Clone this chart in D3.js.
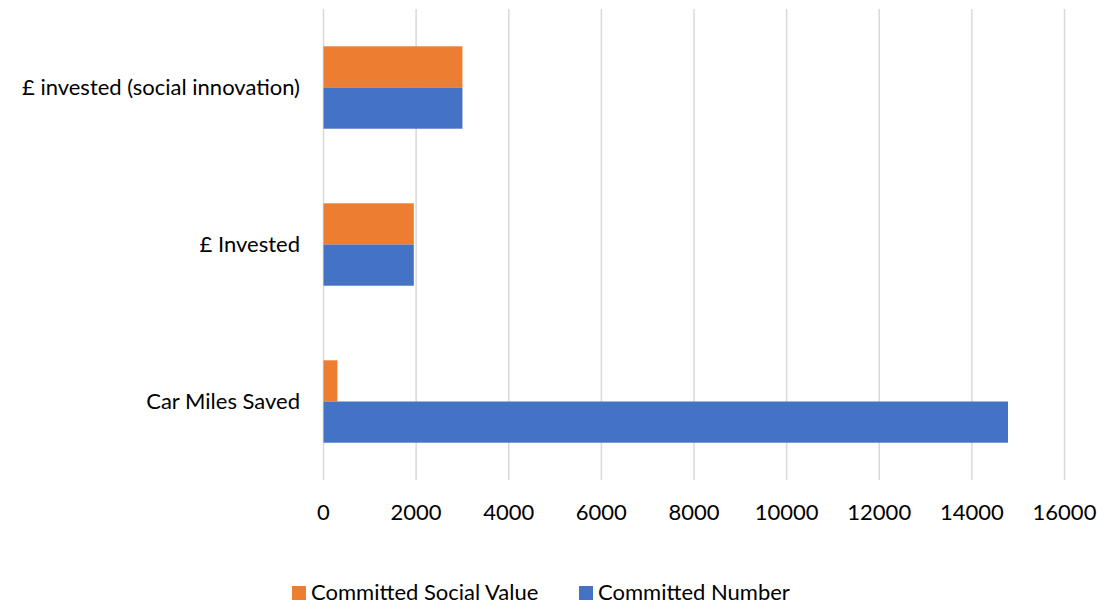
<!DOCTYPE html>
<html>
<head>
<meta charset="utf-8">
<script src="https://cdn.jsdelivr.net/npm/d3@7"></script>
<style>
  body { margin: 0; background: #fff; }
  text { font-family: Lato, "Open Sans", sans-serif; fill: #000; }
</style>
</head>
<body>
<script>
const WIDTH = 1097;
const HEIGHT = 606;

var categories = ['£ invested (social innovation)', '£ Invested', 'Car Miles Saved'];
var seriesNames = ['Committed Social Value', 'Committed Number'];
var socialValue = [3000, 1950, 300];
var committedNumber = [3000, 1950, 14780];
var ticks = [0, 2000, 4000, 6000, 8000, 10000, 12000, 14000, 16000];
var colors = d3.scaleOrdinal().domain(seriesNames).range(['#ED7D31', '#4472C4']);

var rows = categories.map(function(c, i) {
    return {name: c, values: [socialValue[i], committedNumber[i]]};
});

var svg = d3.select('body').append('svg')
    .attr('width', WIDTH)
    .attr('height', HEIGHT);

var x = d3.scaleLinear().domain([0, 16000]).range([323.5, 1064.5]);
var y = d3.scaleBand().domain(categories).range([9, 480])
    .paddingInner(0.475).paddingOuter(0.2375);
var ySub = d3.scaleBand().domain(seriesNames).range([0, y.bandwidth()]);

// gridlines
svg.append('g').selectAll('line')
    .data(ticks)
    .enter().append('line')
    .attr('x1', function(d) { return x(d); })
    .attr('x2', function(d) { return x(d); })
    .attr('y1', 9)
    .attr('y2', 480)
    .attr('stroke', '#d9d9d9')
    .attr('stroke-width', 1.5);

// bars
var groups = svg.append('g').selectAll('g')
    .data(rows)
    .enter().append('g')
    .attr('transform', function(d) { return 'translate(0,' + y(d.name) + ')'; });

groups.selectAll('rect')
    .data(function(d) { return d.values.map(function(v, i) { return {key: seriesNames[i], value: v}; }); })
    .enter().append('rect')
    .attr('x', x(0))
    .attr('y', function(d) { return ySub(d.key); })
    .attr('width', function(d) { return x(d.value) - x(0); })
    .attr('height', ySub.bandwidth())
    .attr('fill', function(d) { return colors(d.key); });

// category labels
svg.append('g').selectAll('text')
    .data(categories)
    .enter().append('text')
    .attr('x', 300)
    .attr('y', function(d) { return y(d) + y.bandwidth() / 2; })
    .attr('dy', '0.35em')
    .attr('text-anchor', 'end')
    .style('font-size', '22px')
    .text(function(d) { return d; });

// tick labels
svg.append('g').selectAll('text')
    .data(ticks)
    .enter().append('text')
    .attr('x', function(d) { return x(d); })
    .attr('y', 512)
    .attr('dy', '0.35em')
    .attr('text-anchor', 'middle')
    .style('font-size', '22px')
    .text(function(d) { return d; });

// legend
var legendX = [292, 579];
var legend = svg.append('g').selectAll('g')
    .data(seriesNames)
    .enter().append('g')
    .attr('transform', function(d, i) { return 'translate(' + legendX[i] + ',586)'; });

legend.append('rect')
    .attr('width', 14)
    .attr('height', 14)
    .attr('fill', function(d) { return colors(d); });

legend.append('text')
    .attr('x', 19)
    .attr('y', 14)
    .style('font-size', '22px')
    .text(function(d) { return d; });
</script>
</body>
</html>
